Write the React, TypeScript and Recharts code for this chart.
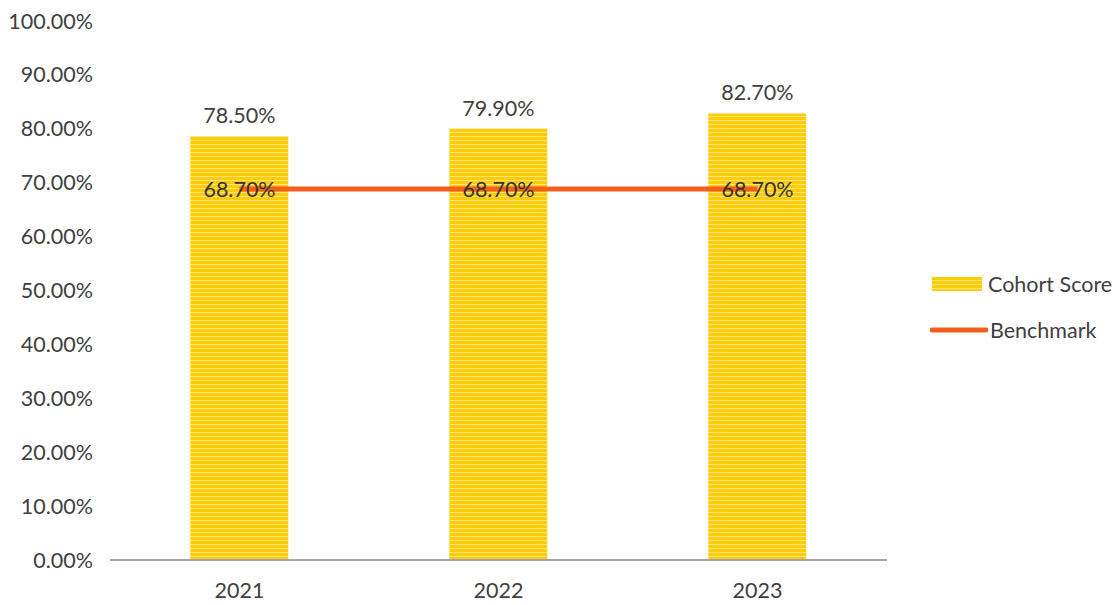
import {
  ComposedChart, Bar, Line, XAxis, YAxis, Legend, LabelList,
} from 'recharts'

const years = ['2021', '2022', '2023']
const cohortScore = [0.785, 0.799, 0.827]
const benchmark = [0.687, 0.687, 0.687]
const yTicks = [0, 0.1, 0.2, 0.3, 0.4, 0.5, 0.6, 0.7, 0.8, 0.9, 1]

const data = years.map((y, i) => ({ year: y, cohort: cohortScore[i], bench: benchmark[i] }))

const FONT = 'Lato, "Open Sans", sans-serif'
const FS = 21.5
const TEXT = '#404040'
const BAR_FILL = 'url(#stripes)'
const LINE_COLOR = '#F0601C'

const pct = (v: number) => `${(v * 100).toFixed(2)}%`

const LegendContent = () => (
  <div style={{ fontFamily: FONT, fontSize: FS, color: TEXT }}>
    <div style={{ display: 'flex', alignItems: 'center', marginBottom: 20 }}>
      <svg width={54} height={16} style={{ marginRight: 4 }}>
        <rect x={2} y={1} width={50} height={14} fill={BAR_FILL} />
      </svg>
      Cohort Score
    </div>
    <div style={{ display: 'flex', alignItems: 'center' }}>
      <svg width={58} height={16} style={{ marginRight: 2 }}>
        <line x1={2} y1={8} x2={56} y2={8} stroke={LINE_COLOR} strokeWidth={5} strokeLinecap="round" />
      </svg>
      Benchmark
    </div>
  </div>
)

export default function App() {
  return (
    <div style={{ background: '#fff', width: 1104, height: 597 }}>
      <ComposedChart
        width={1104}
        height={597}
        data={data}
        margin={{ top: 12, right: 15, bottom: 8, left: 0 }}
        barCategoryGap="31%"
      >
        <defs>
          <pattern id="stripes" width={8} height={4} patternUnits="userSpaceOnUse">
            <rect width={8} height={4} fill="#FFCC00" />
            <rect y={0} width={8} height={1} fill="#F7E28A" />
          </pattern>
        </defs>
        <XAxis
          dataKey="year"
          tick={{ fontSize: FS, fill: TEXT, fontFamily: FONT }}
          tickLine={false}
          axisLine={{ stroke: '#A6A6A6', strokeWidth: 2 }}
          tickMargin={17}
          height={37}
        />
        <YAxis
          domain={[0, 1]}
          ticks={yTicks}
          tickFormatter={pct}
          tick={{ fontSize: FS, fill: TEXT, fontFamily: FONT }}
          tickLine={false}
          axisLine={false}
          width={102}
          tickMargin={11}
        />
        <Legend
          layout="vertical"
          align="right"
          verticalAlign="middle"
          content={<LegendContent />}
          wrapperStyle={{ right: -28, width: 210 }}
        />
        <Bar dataKey="cohort" fill={BAR_FILL} isAnimationActive={false}>
          <LabelList
            dataKey="cohort"
            position="top"
            offset={13}
            formatter={(v: any) => pct(Number(v))}
            style={{ fontSize: FS, fill: TEXT, fontFamily: FONT }}
          />
        </Bar>
        <Line
          dataKey="bench"
          stroke={LINE_COLOR}
          strokeWidth={5}
          dot={false}
          activeDot={false}
          isAnimationActive={false}
        >
          <LabelList
            dataKey="bench"
            position="center"
            formatter={(v: any) => pct(Number(v))}
            style={{ fontSize: FS, fill: '#333', fontFamily: FONT }}
          />
        </Line>
      </ComposedChart>
    </div>
  )
}
